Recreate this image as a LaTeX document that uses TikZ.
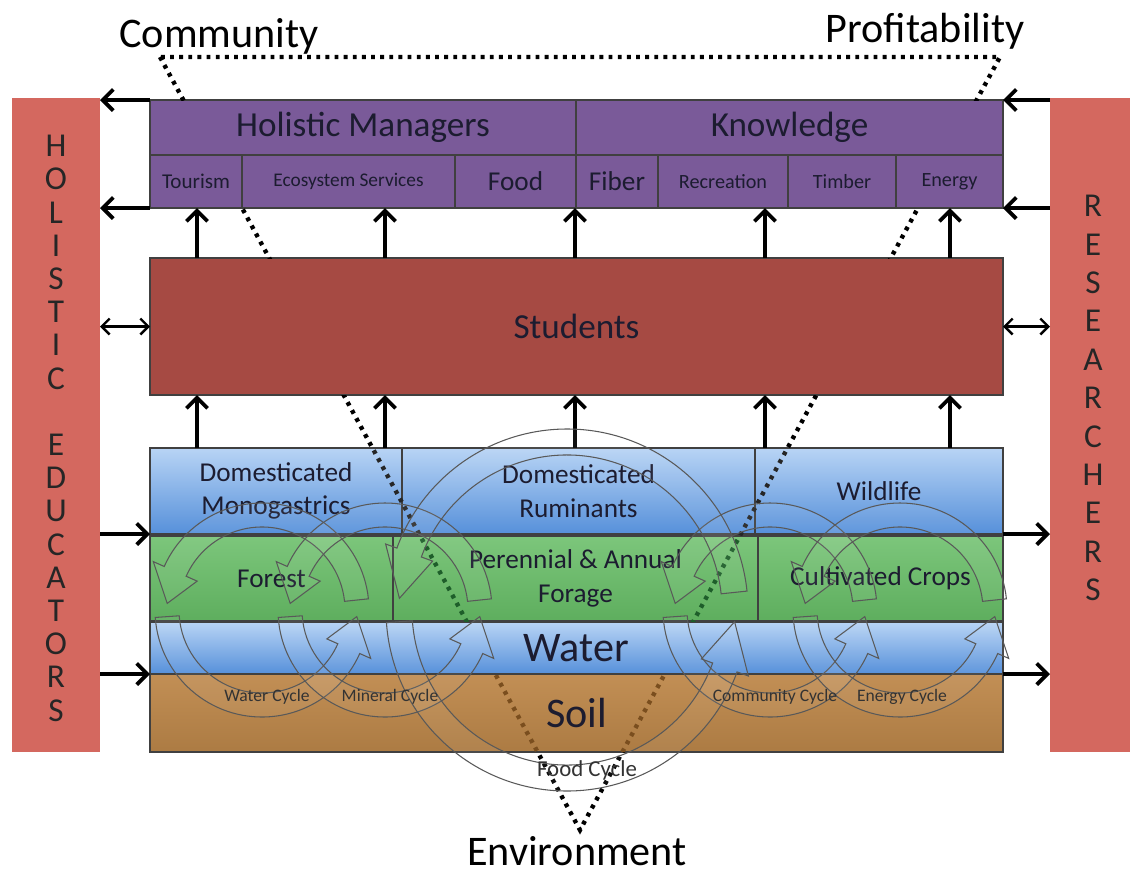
\documentclass[tikz,border=0pt]{standalone}
\usepackage{fontspec}
\setmainfont{Carlito}
\usetikzlibrary{arrows.meta}

\definecolor{barred}{HTML}{D4685F}
\definecolor{hmpurple}{HTML}{7A5A99}
\definecolor{studred}{HTML}{A64A43}
\definecolor{bluetop}{HTML}{B8D4F5}
\definecolor{bluebot}{HTML}{5690DA}
\definecolor{greentop}{HTML}{7CC67B}
\definecolor{greenbot}{HTML}{5EAE5E}
\definecolor{soiltop}{HTML}{C28F55}
\definecolor{soilbot}{HTML}{AC7B43}
\definecolor{dkgreen}{HTML}{1E5E2A}
\definecolor{dkbrown}{HTML}{7A4E1E}
\definecolor{txt}{HTML}{1C1C30}

\tikzset{
  box/.style 2 args={draw=black!75, line width=1.1pt, anchor=north west,
    inner sep=0pt, outer sep=0pt, minimum width=#1*0.02cm,
    minimum height=#2*0.02cm, text=txt, align=center},
  bar/.style 2 args={anchor=north west, inner sep=0pt, outer sep=0pt,
    minimum width=#1*0.02cm, minimum height=#2*0.02cm, fill=barred},
  hmbox/.style={fill=hmpurple},
  blue/.style={top color=bluetop, bottom color=bluebot},
  green/.style={top color=greentop, bottom color=greenbot},
  soilbox/.style={top color=soiltop, bottom color=soilbot},
  big/.style={font=\fontsize{20}{24}\selectfont},
  mid/.style={font=\fontsize{15.5}{19}\selectfont},
  small/.style={font=\fontsize{11.5}{14}\selectfont},
  letter/.style={font=\fontsize{19}{22}\selectfont, text=black!85, inner sep=0pt},
  corner/.style={font=\fontsize{24}{28}\selectfont, inner sep=0pt},
  uparr/.style={line width=2.2pt, -{Straight Barb[length=6pt,width=12pt]}},
  dblarr/.style={line width=1.4pt, {Straight Barb[length=4.5pt,width=9pt]}-{Straight Barb[length=4.5pt,width=9pt]}},
  dotline/.style={line width=2.5pt, dash pattern=on 2.2pt off 3pt},
  ring/.style={draw=black!65, line width=0.6pt, fill=white, fill opacity=0.06},
  cyclab/.style={font=\fontsize{10}{12}\selectfont, text=black!80, inner sep=0pt}
}

% centre x, centre y, radius, half width, head span
\newcommand{\ringarrows}[5]{%
  \begin{scope}[shift={(#1,#2)}]
    \filldraw[ring] (354:#3+#4) arc[start angle=354, end angle=184+#5, radius=#3+#4]
      -- (184+#5:#3+#4+12) -- (184:#3) -- (184+#5:#3-#4-12) -- (184+#5:#3-#4)
      arc[start angle=184+#5, end angle=354, radius=#3-#4] -- cycle;
    \filldraw[ring] (176:#3+#4) arc[start angle=176, end angle=4+#5, radius=#3+#4]
      -- (4+#5:#3+#4+12) -- (4:#3) -- (4+#5:#3-#4-12) -- (4+#5:#3-#4)
      arc[start angle=4+#5, end angle=176, radius=#3-#4] -- cycle;
  \end{scope}}

\begin{document}
\begin{tikzpicture}[x=0.02cm, y=-0.02cm]
  \useasboundingbox (0,0) rectangle (1130,877);

  % side bars
  \node[bar={88}{654}] (edu) at (12,98) {};
  \node[bar={80}{654}] (res) at (1050,98) {};
  \foreach \l [count=\i from 0] in {H,O,L,I,S,T,I,C,{},E,D,U,C,A,T,O,R,S}
    \node[letter] (e\i) at (56,146+\i*33.2) {\l};
  \foreach \l [count=\i from 0] in {R,E,S,E,A,R,C,H,E,R,S}
    \node[letter] (r\i) at (1093,206+\i*38.4) {\l};

  % outcomes
  \node[box={426}{55}, hmbox, big] (hm) at (150,100) {Holistic Managers};
  \node[box={427}{55}, hmbox, big] (know) at (576,100) {Knowledge};
  \node[box={92}{53}, hmbox, small, font=\fontsize{12}{14}\selectfont] (tour) at (150,155) {Tourism};
  \node[box={213}{53}, hmbox, small, font=\fontsize{11}{13}\selectfont] (eco) at (242,155) {Ecosystem Services};
  \node[box={121}{53}, hmbox, mid] (food) at (455,155) {Food};
  \node[box={82}{53}, hmbox, mid] (fiber) at (576,155) {Fiber};
  \node[box={130}{53}, hmbox, small] (recr) at (658,155) {Recreation};
  \node[box={108}{53}, hmbox, small] (timb) at (788,155) {Timber};
  \node[box={107}{53}, hmbox, small] (ener) at (896,155) {Energy};

  \node[box={853}{137}, fill=studred, big] (stud) at (150,258) {Students};

  % land base
  \node[box={252}{86}, blue, mid] (mono) at (150,448) {Domesticated\\Monogastrics};
  \node[box={353}{86}, blue, mid] (rum) at (402,448) {Domesticated\\Ruminants};
  \node[box={248}{86}, blue, mid] (wild) at (755,448) {Wildlife};
  \node[box={243}{85}, green, mid] (forest) at (150,536) {Forest};
  \node[box={365}{85}, green, mid] (forage) at (393,536) {Perennial \& Annual\\Forage};
  \node[box={245}{85}, green, mid] (crops) at (758,536) {Cultivated Crops};
  \node[box={853}{52}, blue, font=\fontsize{24}{28}\selectfont] (water) at (150,622) {Water};
  \node[box={853}{78}, soilbox, font=\fontsize{24}{28}\selectfont] (soil) at (150,674) {Soil};

  % arrows
  \foreach \x in {197,385,575,765,950} {
    \draw[uparr] (\x,0 |- stud.north) -- (\x,0 |- tour.south);
    \draw[uparr] (\x,0 |- mono.north) -- (\x,0 |- stud.south);
  }
  \draw[uparr] (hm.north west) -- (edu.east |- hm.north west);
  \draw[uparr] (tour.south west) -- (edu.east |- tour.south west);
  \draw[uparr] (res.west |- know.north east) -- (know.north east);
  \draw[uparr] (res.west |- ener.south east) -- (ener.south east);
  \draw[dblarr] (edu.east |- stud.west) -- (stud.west);
  \draw[dblarr] (stud.east) -- (res.west |- stud.east);
  \draw[uparr] (edu.east |- mono.south west) -- (mono.south west);
  \draw[uparr] (edu.east |- soil.north west) -- (soil.north west);
  \draw[uparr] (wild.south east) -- (res.west |- wild.south east);
  \draw[uparr] (soil.north east) -- (res.west |- soil.north east);

  % triangle
  \node[corner] (comm) at (219,36) {Community};
  \node[corner] (prof) at (925,31) {Profitability};
  \node[corner] (env) at (577,851) {Environment};
  \coordinate (tc) at (160,57);
  \coordinate (tp) at (1000,57);
  \coordinate (te) at (580,830);
  \foreach \ya/\yb/\col in {0/100/black, 208/258/black, 395/448/black,
      448/535/black!85, 537/621/dkgreen, 675/752/dkbrown, 752/877/black} {
    \begin{scope}
      \clip (0,\ya) rectangle (1130,\yb);
      \draw[dotline, \col] (tc) -- (te) -- (tp) -- cycle;
    \end{scope}
  }

  % cycles
  \ringarrows{262}{610}{95}{12}{20}
  \ringarrows{385}{610}{95}{12}{20}
  \ringarrows{770}{610}{95}{12}{20}
  \ringarrows{900}{610}{95}{12}{20}
  \ringarrows{567}{610}{168}{13}{16}
  \node[cyclab] (wc) at (267,697) {Water Cycle};
  \node[cyclab] (mc) at (390,697) {Mineral Cycle};
  \node[cyclab] (cc) at (775,697) {Community Cycle};
  \node[cyclab] (ec) at (902,697) {Energy Cycle};
  \node[cyclab, font=\fontsize{13}{15}\selectfont] (fc) at (587,770) {Food Cycle};
\end{tikzpicture}
\end{document}
